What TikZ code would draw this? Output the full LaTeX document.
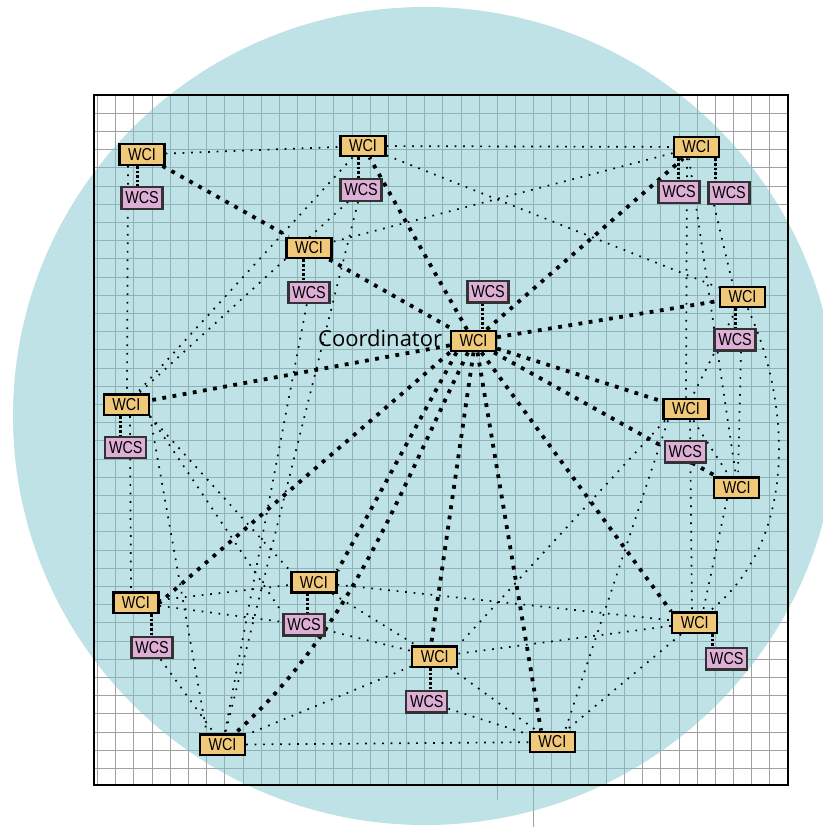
\documentclass[tikz,border=0pt]{standalone}
\usepackage{fontspec}
\newfontfamily\boxfont[FakeStretch=0.83]{Liberation Sans}
\newfontfamily\coordfont{Open Sans}
\definecolor{wciorange}{HTML}{EFC87A}
\definecolor{wcspink}{HTML}{DDAFD6}
\definecolor{wcsborder}{HTML}{333333}
\definecolor{circfill}{RGB}{125,197,205}
\definecolor{gridgray}{HTML}{A0A0A0}
\pgfdeclarelayer{bg}
\pgfsetlayers{bg,main}
\tikzset{
  wci/.style={draw=black, line width=2.4pt, fill=wciorange, minimum width=45pt, minimum height=20.5pt, inner sep=0pt, font=\boxfont\fontsize{17.3}{20}\selectfont},
  wcs/.style={draw=wcsborder, line width=2.2pt, fill=wcspink, minimum width=41pt, minimum height=21.5pt, inner sep=0pt, font=\boxfont\fontsize{17.3}{20}\selectfont},
  mesh/.style={line width=1.7pt, dash pattern=on 1.7pt off 6.8pt, black},
  thk/.style={line width=3.8pt, dash pattern=on 3.8pt off 6.5pt, black},
  con/.style={line width=3pt, dash pattern=on 2.6pt off 2pt, black},
  gridl/.style={line width=0.9pt, gridgray}
}
\begin{document}
\begin{tikzpicture}[x=1pt,y=-1pt]
\useasboundingbox (0,0) rectangle (822,827);
% nodes
\node[wci] (A1) at (142,154.5) {WCI};
\node[wcs] (S1) at (142,198) {WCS};
\node[wci] (A2) at (363,146) {WCI};
\node[wcs] (S2) at (361,190) {WCS};
\node[wci] (A3) at (696.3,147) {WCI};
\node[wcs] (S3a) at (679,192) {WCS};
\node[wcs] (S3b) at (729,193) {WCS};
\node[wci] (A4) at (309,248) {WCI};
\node[wcs] (S4) at (309,292.5) {WCS};
\node[wci] (C) at (473.5,341) {WCI};
\node[wcs] (SC) at (488,291.7) {WCS};
\node[wci] (A6) at (742.5,297) {WCI};
\node[wcs] (S6) at (735,339.7) {WCS};
\node[wci] (A7) at (126.3,404.7) {WCI};
\node[wcs] (S7) at (125.8,447.5) {WCS};
\node[wci] (A8) at (686,409) {WCI};
\node[wcs] (S8) at (685.3,451.7) {WCS};
\node[wci] (A9) at (736.7,487.7) {WCI};
\node[wci] (A10) at (313.8,582.2) {WCI};
\node[wcs] (S10) at (304,624.7) {WCS};
\node[wci] (A11) at (135.8,602.8) {WCI};
\node[wcs] (S11) at (152,647.5) {WCS};
\node[wci] (A12) at (434.7,656.7) {WCI};
\node[wcs] (S12) at (426.8,701.7) {WCS};
\node[wci] (A13) at (694.7,622.8) {WCI};
\node[wcs] (S13) at (726.7,658.7) {WCS};
\node[wci] (A14) at (222.5,744.7) {WCI};
\node[wci] (A15) at (552.3,742) {WCI};
\node[anchor=base west, inner sep=0pt, font=\coordfont\fontsize{22}{26}\selectfont] (lbl) at (318,346) {Coordinator};

\begin{pgfonlayer}{bg}
% grid
\foreach \k in {0,...,38} \draw[gridl] ({97.6+18.17*\k},95) -- ({97.6+18.17*\k},785);
\foreach \k in {0,...,37} \draw[gridl] (94,{95+18.2*\k}) -- (788,{95+18.2*\k});
\draw[gridl] (497.3,785) -- (497.3,800);
\draw[gridl] (533.7,785) -- (533.7,827);
% disc
\fill[circfill, fill opacity=0.5] (425,416) ellipse [x radius=412pt, y radius=409pt];
% frame
\draw[line width=2.2pt] (94.3,95) rectangle (787.7,785);
% thin mesh
\draw[mesh] (A1) -- (A2);
\draw[mesh] (A2) -- (A3);
\draw[mesh] (A2) -- (A6);
\draw[mesh] (A3) -- (A4);
\draw[mesh] (128,0 |- A1.south) -- (127,0 |- A7.north);
\draw[mesh] (A2) -- (A7);
\draw[mesh] (S2) -- (A7);
\draw[mesh] (S2) -- (A14);
\draw[mesh] (S4) -- (A14);
\draw[mesh] (130,0 |- A7.south) -- (131,0 |- A11.north);
\draw[mesh] (A7.south east) -- ([xshift=8pt]A14.north west);
\draw[mesh] (A7.south east) -- (A10.north west);
\draw[mesh] (A7.south east) -- (S10.north west);
\draw[mesh] (687,0 |- A3.south) -- (686,0 |- A8.north);
\draw[mesh] (689,0 |- A3.south) -- (736,0 |- A9.north);
\draw[mesh] (714,0 |- S3b.south) -- (733,0 |- A6.north);
\draw[mesh] (A6) .. controls (790,400) and (800,540) .. (A13);
\draw[mesh] (A6) -- (A8);
\draw[mesh] (741,0 |- S6.south) -- (738,0 |- A9.north);
\draw[mesh] (A8) -- (A9);
\draw[mesh] ([xshift=-21pt]A8.south) -- (A12.north east);
\draw[mesh] (668,0 |- A8.south) -- (565,0 |- A15.north);
\draw[mesh] (690,0 |- A8.south) -- (692,0 |- A13.north);
\draw[mesh] (727,0 |- A9.south) -- (703,0 |- A13.north);
\draw[mesh] (A10) -- (A13);
\draw[mesh] (A12) -- (A13);
\draw[mesh] (A13) -- (A15);
\draw[mesh] (A14) -- (A15);
\draw[mesh] (A12) -- (A15);
\draw[mesh] (S12) -- (A15);
\draw[mesh] (A12) -- (A14);
\draw[mesh] (A10) -- (A12);
\draw[mesh] (S10) -- (A12);
\draw[mesh] (A11) -- (A10);
\draw[mesh] (A11) -- (S10);
\draw[mesh] (S11) -- (A14);
% thick links
\draw[thk] (A1) -- (A4);
\draw[thk] (A4) -- (C);
\draw[thk] (C) -- (A2);
\draw[thk] (C) -- (A3);
\draw[thk] (C) -- (A6);
\draw[thk] (C) -- (A7);
\draw[thk] (C) -- (A8);
\draw[thk] (C) -- (A9);
\draw[thk] ([xshift=-17pt]C.south) -- (A10.north east);
\draw[thk] (C.south west) -- (A11.east);
\draw[thk] (C.south) -- (431,0 |- A12.north);
\draw[thk] ([xshift=8pt]C.south) -- (A13.north west);
\draw[thk] (C) .. controls (395,502) and (350,630) .. (A14);
\draw[thk] ([xshift=4pt]C.south) -- (541,0 |- A15.north);
% short links WCI-WCS
\draw[con] (137,0 |- A1.south) -- (137,0 |- S1.north);
\draw[con] (358,0 |- A2.south) -- (358,0 |- S2.north);
\draw[con] (678.5,0 |- A3.south) -- (678.5,0 |- S3a.north);
\draw[con] (715,0 |- A3.south) -- (715,0 |- S3b.north);
\draw[con] (303,0 |- A4.south) -- (303,0 |- S4.north);
\draw[con] (482,0 |- SC.south) -- (482,0 |- C.north);
\draw[con] (735,0 |- A6.south) -- (735,0 |- S6.north);
\draw[con] (120,0 |- A7.south) -- (120,0 |- S7.north);
\draw[con] (307,0 |- A10.south) -- (307,0 |- S10.north);
\draw[con] (151,0 |- A11.south) -- (151,0 |- S11.north);
\draw[con] (430,0 |- A12.south) -- (430,0 |- S12.north);
\draw[con] (712,0 |- A13.south) -- (712,0 |- S13.north);
\end{pgfonlayer}
\end{tikzpicture}
\end{document}
